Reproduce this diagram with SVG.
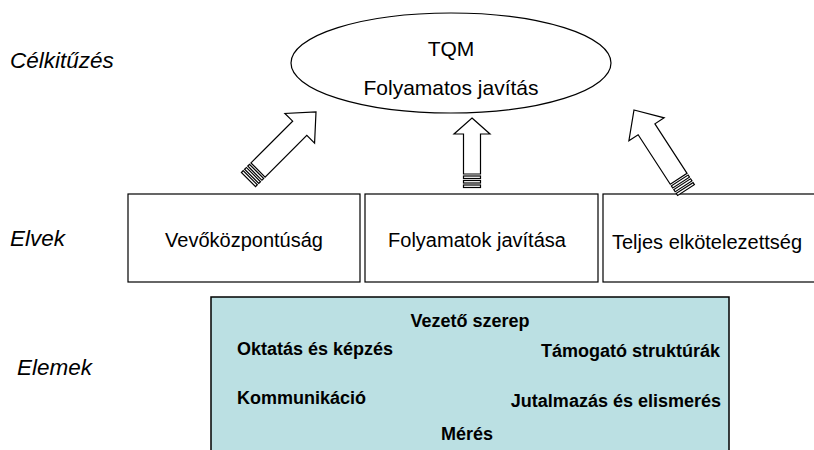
<svg xmlns="http://www.w3.org/2000/svg" width="814" height="450" viewBox="0 0 814 450">
  <style>
    .lbl { font-family: "Liberation Sans", Arial, sans-serif; font-style: italic; font-size: 22.5px; fill: #000; }
    .box { fill: #fff; stroke: #000; stroke-width: 1.2; }
    .btxt { font-family: "Liberation Sans", Arial, sans-serif; font-size: 20px; fill: #000; text-anchor: middle; }
    .etxt { font-family: "Liberation Sans", Arial, sans-serif; font-size: 21px; fill: #000; text-anchor: middle; }
    .elem { font-family: "Liberation Sans", Arial, sans-serif; font-weight: bold; font-size: 18px; fill: #000; }
    .arrow { fill: #fff; stroke: #000; stroke-width: 1.2; stroke-linejoin: miter; }
  </style>
  <defs>
    <!-- block arrow with striped tail, tip at origin, pointing up -->
    <g id="bigArrow">
      <path class="arrow" d="M0,0 L21,23 L10,23 L10,82 L-10,82 L-10,23 L-21,23 Z"/>
      <rect class="arrow" x="-10" y="84" width="20" height="2.5"/>
      <rect class="arrow" x="-10" y="88.5" width="20" height="2.5"/>
      <rect class="arrow" x="-10" y="93" width="20" height="2.5"/>
    </g>
    <g id="smallArrow">
      <path class="arrow" d="M0,0 L18,16 L8.5,16 L8.5,56 L-8.5,56 L-8.5,16 L-18,16 Z"/>
      <rect class="arrow" x="-8.5" y="58" width="17" height="2.5"/>
      <rect class="arrow" x="-8.5" y="62.5" width="17" height="2.5"/>
      <rect class="arrow" x="-8.5" y="67" width="17" height="2.5"/>
    </g>
  </defs>

  <rect width="814" height="450" fill="#fff"/>

  <!-- level labels -->
  <text class="lbl" x="10" y="68">Célkitűzés</text>
  <text class="lbl" x="10" y="246">Elvek</text>
  <text class="lbl" x="17" y="375">Elemek</text>

  <!-- goal -->
  <g id="goal">
    <ellipse cx="451" cy="63" rx="160" ry="50" fill="#fff" stroke="#000" stroke-width="1.2"/>
    <text class="etxt" x="451" y="56">TQM</text>
    <text class="etxt" x="451" y="95">Folyamatos javítás</text>
  </g>

  <!-- principles -->
  <g id="principle-customer">
    <rect class="box" x="128" y="194" width="232" height="88"/>
    <text class="btxt" x="244" y="247">Vevőközpontúság</text>
  </g>
  <g id="principle-process">
    <rect class="box" x="365" y="194" width="233" height="88"/>
    <text class="btxt" x="477" y="247">Folyamatok javítása</text>
  </g>
  <g id="principle-commitment">
    <rect class="box" x="603" y="194" width="240" height="88"/>
    <text class="btxt" x="707" y="249">Teljes elkötelezettség</text>
  </g>

  <!-- elements -->
  <g id="elements">
    <rect x="211" y="297" width="518" height="170" fill="#bbe0e3" stroke="#000" stroke-width="1.5"/>
    <text class="elem" x="470" y="327" text-anchor="middle">Vezető szerep</text>
    <text class="elem" x="237" y="355">Oktatás és képzés</text>
    <text class="elem" x="720" y="357" text-anchor="end">Támogató struktúrák</text>
    <text class="elem" x="237" y="404">Kommunikáció</text>
    <text class="elem" x="721" y="407" text-anchor="end">Jutalmazás és elismerés</text>
    <text class="elem" x="467" y="440" text-anchor="middle">Mérés</text>
  </g>

  <!-- connectors -->
  <g id="connectors">
    <use href="#bigArrow" transform="translate(316,112) rotate(45)"/>
    <use href="#smallArrow" transform="translate(472,118)"/>
    <use href="#bigArrow" transform="translate(634,110) rotate(-33)"/>
  </g>
</svg>
